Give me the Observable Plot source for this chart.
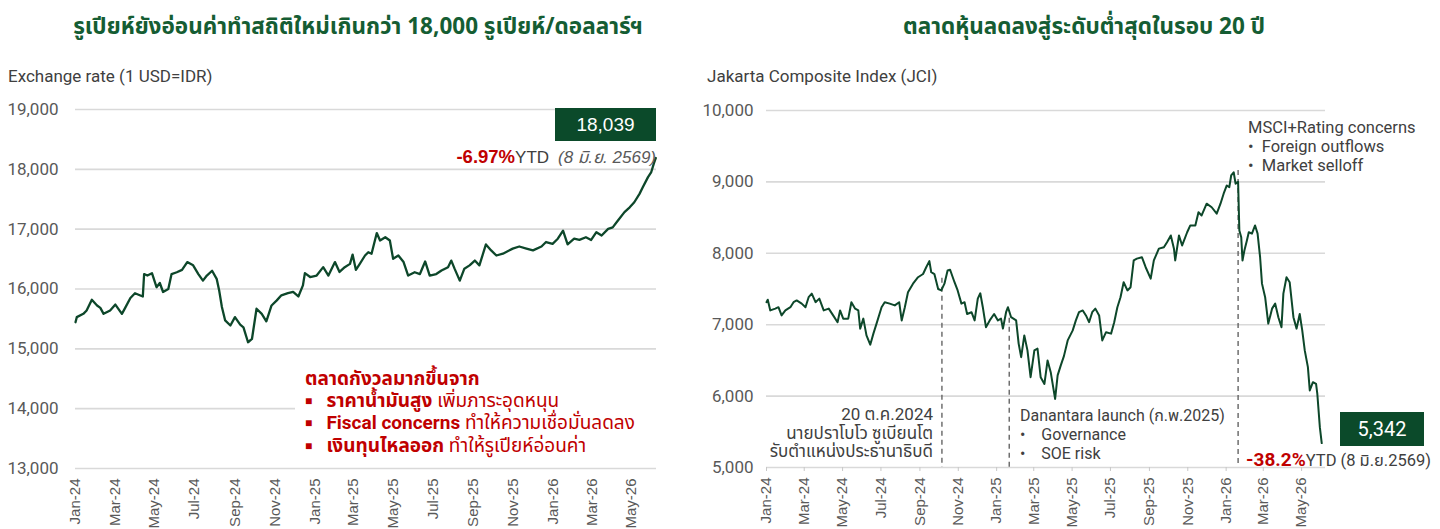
<!DOCTYPE html>
<html><head><meta charset="utf-8">
<script src="https://cdn.jsdelivr.net/npm/d3@7"></script>
<script src="https://cdn.jsdelivr.net/npm/@observablehq/plot@0.6"></script>
<style>
body{margin:0;background:#fff;}
#wrap{position:relative;width:1440px;height:529px;overflow:hidden;background:#fff;}
.abs{position:absolute;white-space:nowrap;}
.cond{font-family:Roboto,"Noto Sans Thai","Noto Sans",sans-serif;}
.arial{font-family:"Liberation Sans",Arial,"Noto Sans Thai",sans-serif;}
.title{font-family:"Noto Sans Thai","Noto Sans",sans-serif;font-weight:700;font-size:22.5px;color:#155d33;transform:translateX(-50%);line-height:28px;}
.red{color:#c00000;}
.b{font-weight:700;}
.sq{font-size:12px;vertical-align:2px;}
svg{position:absolute;top:0;}
</style></head><body><div id="wrap"></div>
<script>
// ---------- data ----------
const idrDates = ["2024-01-01","2024-01-03","2024-01-13","2024-01-18","2024-01-26","2024-02-03","2024-02-08","2024-02-13","2024-02-23","2024-03-02","2024-03-12","2024-03-17","2024-03-25","2024-04-01","2024-04-13","2024-04-15","2024-04-20","2024-04-27","2024-05-04","2024-05-09","2024-05-14","2024-05-22","2024-05-27","2024-06-04","2024-06-12","2024-06-20","2024-06-29","2024-07-07","2024-07-14","2024-07-20","2024-07-28","2024-08-04","2024-08-08","2024-08-12","2024-08-17","2024-08-25","2024-09-01","2024-09-09","2024-09-14","2024-09-21","2024-09-27","2024-10-04","2024-10-12","2024-10-19","2024-10-27","2024-11-04","2024-11-11","2024-11-21","2024-11-29","2024-12-07","2024-12-14","2024-12-17","2024-12-25","2025-01-04","2025-01-14","2025-01-22","2025-02-01","2025-02-08","2025-02-16","2025-02-24","2025-02-28","2025-03-05","2025-03-11","2025-03-19","2025-03-24","2025-03-29","2025-04-06","2025-04-11","2025-04-19","2025-04-26","2025-05-01","2025-05-09","2025-05-17","2025-05-24","2025-06-03","2025-06-11","2025-06-19","2025-06-26","2025-07-06","2025-07-14","2025-07-24","2025-07-29","2025-08-03","2025-08-11","2025-08-18","2025-08-26","2025-09-03","2025-09-10","2025-09-20","2025-09-28","2025-10-06","2025-10-16","2025-10-31","2025-11-10","2025-11-21","2025-12-01","2025-12-14","2025-12-21","2025-12-31","2026-01-08","2026-01-16","2026-01-23","2026-02-02","2026-02-10","2026-02-20","2026-02-28","2026-03-08","2026-03-16","2026-03-26","2026-04-02","2026-04-10","2026-04-20","2026-04-28","2026-05-05","2026-05-13","2026-05-18","2026-05-26","2026-05-31","2026-06-04","2026-06-07"];
const idrValues = [15445,15530,15585,15640,15820,15725,15685,15585,15640,15740,15585,15685,15850,15930,15875,16250,16225,16265,16030,16100,15950,16000,16250,16280,16320,16450,16395,16250,16140,16225,16305,16170,15965,15700,15475,15390,15530,15405,15360,15110,15165,15670,15585,15460,15725,15810,15895,15930,15950,15875,16060,16265,16200,16225,16365,16225,16450,16285,16365,16420,16575,16320,16420,16560,16615,16590,16935,16810,16865,16810,16505,16560,16450,16225,16280,16250,16460,16225,16250,16310,16365,16475,16340,16140,16340,16395,16475,16395,16745,16645,16560,16590,16675,16710,16675,16645,16710,16785,16755,16840,16975,16745,16840,16820,16865,16820,16950,16895,17005,17030,17145,17285,17365,17450,17590,17700,17870,17955,18100,18190];

const jciDates = ["2024-01-01","2024-01-03","2024-01-07","2024-01-15","2024-01-20","2024-01-25","2024-01-31","2024-02-08","2024-02-13","2024-02-18","2024-02-26","2024-03-03","2024-03-08","2024-03-13","2024-03-19","2024-03-25","2024-04-01","2024-04-09","2024-04-16","2024-04-23","2024-04-27","2024-05-02","2024-05-10","2024-05-15","2024-05-21","2024-05-26","2024-05-29","2024-06-03","2024-06-08","2024-06-14","2024-06-19","2024-06-24","2024-07-02","2024-07-07","2024-07-15","2024-07-23","2024-07-30","2024-08-03","2024-08-08","2024-08-13","2024-08-21","2024-08-29","2024-09-06","2024-09-11","2024-09-16","2024-09-19","2024-09-24","2024-09-30","2024-10-05","2024-10-10","2024-10-15","2024-10-19","2024-10-26","2024-10-31","2024-11-06","2024-11-11","2024-11-15","2024-11-22","2024-11-27","2024-12-02","2024-12-06","2024-12-10","2024-12-15","2024-12-21","2024-12-28","2025-01-03","2025-01-08","2025-01-11","2025-01-16","2025-01-19","2025-01-24","2025-02-01","2025-02-05","2025-02-09","2025-02-14","2025-02-19","2025-02-24","2025-03-02","2025-03-07","2025-03-12","2025-03-18","2025-03-23","2025-03-28","2025-04-04","2025-04-08","2025-04-13","2025-04-18","2025-04-24","2025-05-02","2025-05-07","2025-05-12","2025-05-18","2025-05-23","2025-05-28","2025-06-02","2025-06-07","2025-06-13","2025-06-18","2025-06-24","2025-07-02","2025-07-07","2025-07-12","2025-07-17","2025-07-22","2025-07-28","2025-08-02","2025-08-07","2025-08-12","2025-08-20","2025-08-26","2025-09-03","2025-09-08","2025-09-16","2025-09-24","2025-09-29","2025-10-05","2025-10-10","2025-10-12","2025-10-18","2025-10-23","2025-10-31","2025-11-05","2025-11-13","2025-11-18","2025-11-23","2025-12-01","2025-12-09","2025-12-17","2025-12-23","2025-12-28","2026-01-02","2026-01-06","2026-01-09","2026-01-13","2026-01-16","2026-01-20","2026-01-22","2026-01-25","2026-01-27","2026-01-30","2026-02-03","2026-02-06","2026-02-11","2026-02-16","2026-02-20","2026-02-24","2026-02-27","2026-03-04","2026-03-09","2026-03-15","2026-03-20","2026-03-25","2026-03-30","2026-04-02","2026-04-07","2026-04-12","2026-04-18","2026-04-23","2026-04-28","2026-05-02","2026-05-06","2026-05-11","2026-05-14","2026-05-19","2026-05-24","2026-05-26","2026-05-30","2026-06-02"];
const jciValues = [7315,7350,7200,7225,7245,7130,7200,7245,7315,7340,7295,7245,7385,7435,7315,7365,7200,7225,7130,7035,7200,7085,7085,7315,7225,7200,6945,7085,6850,6720,6875,7015,7245,7315,7295,7270,7315,7060,7245,7455,7575,7665,7710,7805,7890,7735,7710,7500,7480,7575,7760,7770,7595,7480,7295,7315,7150,7175,7060,7365,7440,7245,6965,7060,7150,7060,7085,6945,7175,7245,7105,7060,6735,6545,6850,6640,6265,6640,6665,6265,6170,6500,6335,5960,6290,6430,6560,6780,6920,7060,7175,7200,7130,7035,7175,7225,7130,6780,6895,6875,7035,7245,7385,7595,7480,7525,7900,7925,7945,7805,7645,7900,8065,8085,8155,8250,8065,7900,8250,8110,8295,8390,8390,8575,8530,8695,8645,8555,8695,8835,8950,8925,9090,9135,8975,9000,8320,8225,7900,8040,8180,8295,8275,8390,8275,7945,7575,7385,7015,7225,7295,7105,6965,7435,7665,7595,7105,6945,7150,6920,6640,6405,6080,6195,6170,6030,5565,5342];

const eventDates = ["2024-10-06","2025-01-21","2026-01-20"];
const eventTops  = [7650, 7090, 9160];

const monthTicks = ["2024-01-01","2024-03-01","2024-05-01","2024-07-01","2024-09-01","2024-11-01","2025-01-01","2025-03-01","2025-05-01","2025-07-01","2025-09-01","2025-11-01","2026-01-01","2026-03-01","2026-05-01"];
const idrTicks = [13000,14000,15000,16000,17000,18000,19000];
const jciTicks = [5000,6000,7000,8000,9000,10000];
const idrLast = 18039, idrYtd = "-6.97%";
const jciLast = 5342, jciYtd = "-38.2%";

// ---------- build ----------
const P = s => new Date(s + "T00:00:00Z");
const idr = idrDates.map((d,i)=>({date:P(d), value:idrValues[i]}));
const jci = jciDates.map((d,i)=>({date:P(d), value:jciValues[i]}));
const events = eventDates.map((d,i)=>({date:P(d), top:eventTops[i]}));
const ticks = monthTicks.map(P);
const fmtM = d3.utcFormat("%b-%y");
const condFont = 'Roboto,"Noto Sans Thai","Noto Sans",sans-serif';
const arialFont = '"Liberation Sans",Arial,sans-serif';
const green = "#0d472a";
const xDomain = [P("2024-01-01"), P("2026-06-08")];

const wrap = document.getElementById("wrap");

const left = Plot.plot({
  width: 700, height: 529,
  marginLeft: 75, marginRight: 44, marginTop: 109, marginBottom: 61,
  style: {background: "transparent", overflow: "visible"},
  x: {type: "utc", domain: xDomain},
  y: {domain: [13000, 19000]},
  marks: [
    Plot.gridY(idrTicks, {stroke: "#d9d9d9", strokeOpacity: 1, strokeWidth: 1.6}),
    Plot.axisY(idrTicks, {tickSize: 0, tickPadding: 17, tickFormat: d3.format(","), fontSize: 17, fill: "#595959", fontFamily: condFont, label: null}),
    Plot.axisX(ticks, {tickSize: 0, tickPadding: 10, tickRotate: -90, tickFormat: fmtM, fontSize: 15, fill: "#595959", fontFamily: arialFont, label: null}),
    Plot.lineY(idr, {x: "date", y: "value", stroke: green, strokeWidth: 2.3})
  ]
});
left.style.left = "0px";
wrap.appendChild(left);

const right = Plot.plot({
  width: 750, height: 529,
  marginLeft: 76, marginRight: 115, marginTop: 110, marginBottom: 62,
  style: {background: "transparent", overflow: "visible"},
  x: {type: "utc", domain: xDomain},
  y: {domain: [5000, 10000]},
  marks: [
    Plot.gridY(jciTicks, {stroke: "#d9d9d9", strokeOpacity: 1, strokeWidth: 1.6}),
    Plot.axisY(jciTicks, {tickSize: 0, tickPadding: 13, tickFormat: d3.format(","), fontSize: 17, fill: "#595959", fontFamily: condFont, label: null}),
    Plot.axisX(ticks, {tickSize: 4, tickPadding: 6, stroke: "#c8c8c8", tickRotate: -90, tickFormat: fmtM, fontSize: 15, fill: "#595959", fontFamily: arialFont, label: null}),
    Plot.ruleX(events, {x: "date", y1: "top", y2: 5000, stroke: "#595959", strokeWidth: 1.3, strokeDasharray: "5,4"}),
    Plot.lineY(jci, {x: "date", y: "value", stroke: green, strokeWidth: 2})
  ]
});
right.style.left = "690px";
wrap.appendChild(right);

// ---------- text overlays ----------
function add(html, css, cls) {
  const d = document.createElement("div");
  d.className = "abs " + (cls || "");
  d.innerHTML = html;
  Object.assign(d.style, css);
  wrap.appendChild(d);
  return d;
}
add("รูเปียห์ยังอ่อนค่าทำสถิติใหม่เกินกว่า 18,000 รูเปียห์/ดอลลาร์ฯ", {left: "358px", top: "13px"}, "title");
add("ตลาดหุ้นลดลงสู่ระดับต่ำสุดในรอบ 20 ปี", {left: "1084px", top: "13px"}, "title");
add("Exchange rate (1 USD=IDR)", {left: "8px", top: "65px", fontSize: "17px", lineHeight: "22px", color: "#404040"}, "cond");
add("Jakarta Composite Index (JCI)", {left: "707px", top: "65px", fontSize: "17px", lineHeight: "22px", color: "#404040"}, "cond");

add(d3.format(",")(idrLast), {left: "555px", top: "108px", width: "101px", height: "33px", lineHeight: "33px", textAlign: "center", background: "#0b4a2a", color: "#fff", fontSize: "19px"}, "arial");
add(`<span class="red b" style="font-size:18.5px">${idrYtd}</span><span style="color:#404040;font-size:17px">YTD</span>&nbsp;&nbsp;<span style="color:#595959;font-style:italic;font-size:17px">(8 มิ.ย. 2569)</span>`,
  {right: (1440-656)+"px", top: "146px", lineHeight: "22px"}, "arial");

add(`<div class="b">ตลาดกังวลมากขึ้นจาก</div>
<div><span class="sq">&#9632;</span>&nbsp;&nbsp;&nbsp;<span class="b">ราคาน้ำมันสูง</span> เพิ่มภาระอุดหนุน</div>
<div><span class="sq">&#9632;</span>&nbsp;&nbsp;&nbsp;<span class="b">Fiscal concerns</span> ทำให้ความเชื่อมั่นลดลง</div>
<div><span class="sq">&#9632;</span>&nbsp;&nbsp;&nbsp;<span class="b">เงินทุนไหลออก</span> ทำให้รูเปียห์อ่อนค่า</div>`,
  {left: "295px", top: "366px", width: "351px", height: "90px", paddingLeft: "10px", paddingTop: "2px", background: "#fff", color: "#c00000", fontSize: "19px", lineHeight: "21.7px"}, "cond");

add(`<div>20 ต.ค.2024</div><div>นายปราโบโว ซูเบียนโต</div><div>รับตำแหน่งประธานาธิบดี</div>`,
  {right: (1440-933)+"px", top: "405px", textAlign: "right", fontSize: "17px", lineHeight: "18.5px", color: "#404040"}, "cond");
add(`<div>Danantara launch (ก.พ.2025)</div><div>&bull;&nbsp;&nbsp;&nbsp;&nbsp;Governance</div><div>&bull;&nbsp;&nbsp;&nbsp;&nbsp;SOE risk</div>`,
  {left: "1020px", top: "406px", fontSize: "16px", lineHeight: "19px", color: "#404040"}, "cond");
add(`<div>MSCI+Rating concerns</div><div>&bull;&nbsp;&nbsp;Foreign outflows</div><div>&bull;&nbsp;&nbsp;Market selloff</div>`,
  {left: "1248px", top: "118px", fontSize: "16.5px", lineHeight: "19px", color: "#404040"}, "cond");

add(d3.format(",")(jciLast), {left: "1340px", top: "412px", width: "84px", height: "34px", lineHeight: "34px", textAlign: "center", background: "#0b4a2a", color: "#fff", fontSize: "20px"}, "cond");
add(`<span class="red b" style="font-size:19px">${jciYtd}</span><span style="color:#404040;font-size:16.5px">YTD (8 มิ.ย.2569)</span>`,
  {left: "1246px", top: "448px", lineHeight: "24px"}, "cond");
</script>
</body></html>
